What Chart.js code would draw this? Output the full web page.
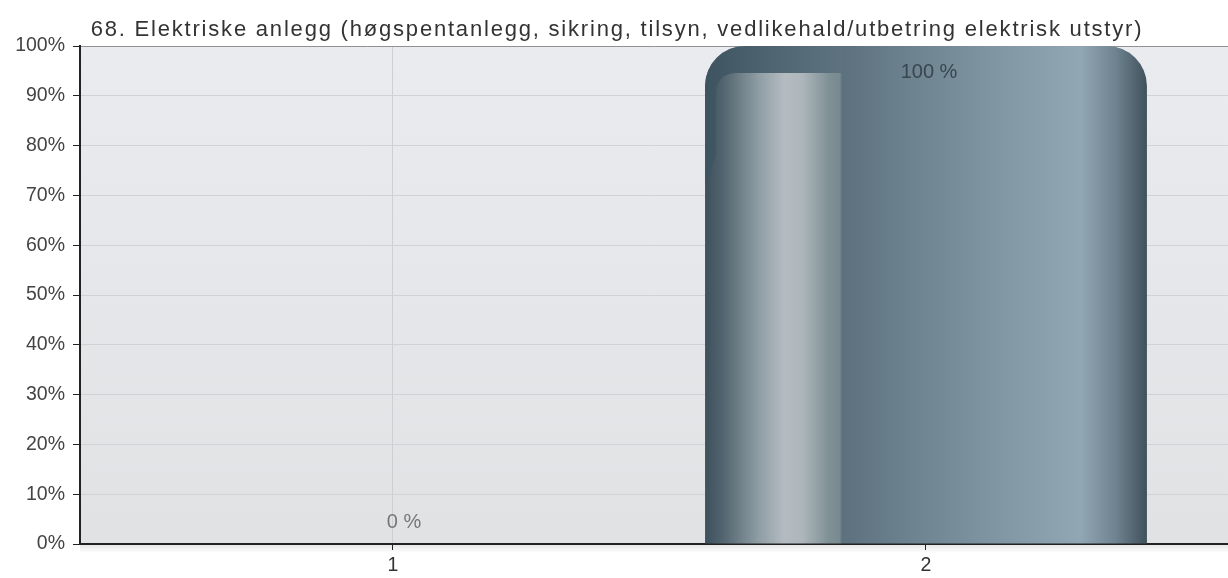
<!DOCTYPE html>
<html>
<head>
<meta charset="utf-8">
<script src="https://cdn.jsdelivr.net/npm/chart.js@4"></script>
<style>
  html, body { margin: 0; padding: 0; background: #fff; }
  #wrap { width: 1228px; height: 578px; position: relative; }
</style>
</head>
<body>
<div id="wrap"><canvas id="chart"></canvas></div>
<script>
const titleText = "68. Elektriske anlegg (høgspentanlegg, sikring, tilsyn, vedlikehald/utbetring elektrisk utstyr)";
const categories = ["1", "2"];
const percentValues = [0, 100];
const yTicks = [0, 10, 20, 30, 40, 50, 60, 70, 80, 90, 100];

const fontFamily = "'Liberation Sans', Arial, sans-serif";

// light grey plot background plus the soft shadow under the x axis
const plotBackground = {
  id: "plotBackground",
  beforeDraw(chart) {
    const { ctx, chartArea: a } = chart;
    const g = ctx.createLinearGradient(0, a.top, 0, a.bottom);
    g.addColorStop(0, "#e9ebee");
    g.addColorStop(1, "#e1e2e4");
    ctx.save();
    ctx.fillStyle = g;
    ctx.fillRect(a.left, a.top, a.right - a.left, a.bottom - a.top);
    const s = ctx.createLinearGradient(0, a.bottom, 0, a.bottom + 9);
    s.addColorStop(0, "rgba(0,0,0,0.10)");
    s.addColorStop(1, "rgba(0,0,0,0)");
    ctx.fillStyle = s;
    ctx.fillRect(a.left, a.bottom, a.right - a.left, 9);
    ctx.restore();
  }
};

// title drawn by hand so it can get the wide letter spacing of the original
const spacedTitle = {
  id: "spacedTitle",
  afterDraw(chart) {
    const { ctx, chartArea: a } = chart;
    ctx.save();
    ctx.font = "22px " + fontFamily;
    ctx.letterSpacing = "1.8px";
    ctx.fillStyle = "#333";
    ctx.textAlign = "center";
    ctx.textBaseline = "middle";
    ctx.fillText(titleText, chart.width / 2 + 3, a.top - 16);
    ctx.restore();
  }
};

// metallic horizontal gradient for the bars
const barStyle = {
  id: "barStyle",
  beforeDatasetsDraw(chart) {
    const { ctx } = chart;
    chart.getDatasetMeta(0).data.forEach((bar) => {
      const l = bar.x - bar.width / 2;
      const g = ctx.createLinearGradient(l, 0, l + bar.width, 0);
      g.addColorStop(0, "#3d505c");
      g.addColorStop(0.04, "#52646f");
      g.addColorStop(0.12, "#8e9ca3");
      g.addColorStop(0.18, "#b4bcc2");
      g.addColorStop(0.22, "#adb6bb");
      g.addColorStop(0.28, "#7f9196");
      g.addColorStop(0.305, "#788a91");
      g.addColorStop(0.31, "#5c717d");
      g.addColorStop(0.45, "#6b818d");
      g.addColorStop(0.65, "#7f96a2");
      g.addColorStop(0.85, "#91a7b3");
      g.addColorStop(0.93, "#6e838f");
      g.addColorStop(1, "#3f515c");
      bar.options.backgroundColor = g;
    });
  },
  afterDatasetsDraw(chart) {
    const { ctx, chartArea: a } = chart;
    const meta = chart.getDatasetMeta(0);
    meta.data.forEach((bar, i) => {
      const h = bar.base - bar.y;
      const l = bar.x - bar.width / 2;
      if (h > 60) {
        // darker top band above the inner highlight panel
        const r = bar.options.borderRadius.topLeft || 0;
        ctx.save();
        ctx.beginPath();
        ctx.roundRect(l, bar.y, bar.width, h, [r, r, 0, 0]);
        ctx.clip();
        const band = 27, inset = 11, cr = 22;
        const pr = l + bar.width * 0.31;
        const g = ctx.createLinearGradient(l, 0, pr, 0);
        g.addColorStop(0, "#3e5360");
        g.addColorStop(0.5, "#4f6672");
        g.addColorStop(1, "#5d7480");
        ctx.fillStyle = g;
        ctx.beginPath();
        ctx.moveTo(l, bar.y);
        ctx.lineTo(pr, bar.y);
        ctx.lineTo(pr, bar.y + band);
        ctx.lineTo(l + inset + cr, bar.y + band);
        ctx.quadraticCurveTo(l + inset, bar.y + band, l + inset, bar.y + band + cr);
        ctx.lineTo(l + inset, bar.y + band + cr + 60);
        ctx.lineTo(l, bar.y + band + cr + 90);
        ctx.closePath();
        ctx.fill();
        ctx.restore();
      }
      // value label
      const v = percentValues[i];
      ctx.save();
      ctx.font = "20px " + fontFamily;
      ctx.textAlign = "center";
      ctx.textBaseline = "middle";
      if (bar.y - a.top < 30) {
        ctx.fillStyle = "#38464e";
        ctx.fillText(v + " %", bar.x + 3, bar.y + 26);
      } else {
        ctx.fillStyle = "#777";
        ctx.fillText(v + " %", bar.x + 11, bar.y - 22);
      }
      ctx.restore();
    });
  }
};

new Chart(document.getElementById("chart"), {
  type: "bar",
  data: {
    datasets: [{
      data: percentValues.map((v, i) => ({ x: i + 1, y: v })),
      borderRadius: { topLeft: 40, topRight: 40 },
      borderSkipped: "start",
      barPercentage: 0.829,
      categoryPercentage: 1
    }]
  },
  options: {
    responsive: true,
    maintainAspectRatio: false,
    animation: false,
    layout: { padding: { top: 46, left: 0, right: 0, bottom: 0 } },
    plugins: {
      legend: { display: false },
      tooltip: { enabled: false },
      title: { display: false }
    },
    scales: {
      x: {
        type: "linear",
        offset: false,
        min: 0.4128,
        max: 2.5666,
        afterBuildTicks: (s) => { s.ticks = categories.map((c, i) => ({ value: i + 1 })); },
        afterFit: (s) => { s.height = 34; },
        ticks: {
          callback: (v) => categories[v - 1],
          color: "#333",
          font: { family: fontFamily, size: 19.5 },
          padding: 4
        },
        grid: { offset: false, color: "#ccd0d3", tickColor: "#222", tickLength: 6 },
        border: { color: "#222", width: 2 }
      },
      y: {
        min: 0,
        max: 100,
        afterBuildTicks: (s) => { s.ticks = yTicks.map((v) => ({ value: v })); },
        afterFit: (s) => { s.width = 80; },
        ticks: {
          callback: (v) => v + "%",
          color: "#444",
          font: { family: fontFamily, size: 19.5 },
          padding: 8
        },
        grid: {
          color: (c) => (c.tick && c.tick.value === 100 ? "#8f9193" : "#d0d3d6"),
          tickColor: "#222",
          tickLength: 7
        },
        border: { color: "#222", width: 2 }
      }
    }
  },
  plugins: [plotBackground, barStyle, spacedTitle]
});
</script>
</body>
</html>
